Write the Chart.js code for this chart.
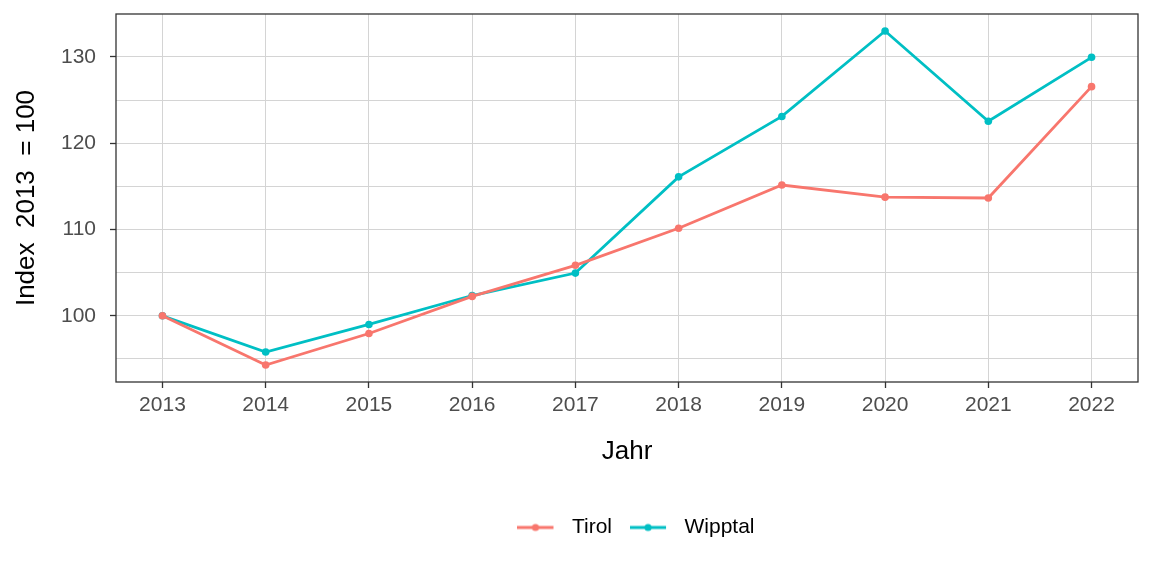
<!DOCTYPE html>
<html>
<head>
<meta charset="utf-8">
<script src="https://cdn.jsdelivr.net/npm/chart.js@4"></script>
<style>
  html, body { margin: 0; padding: 0; background: #ffffff; }
  #wrap { width: 1152px; height: 576px; }
</style>
</head>
<body>
<div id="wrap"><canvas id="chart" width="1152" height="576"></canvas></div>
<script>
// data
const years = [2013, 2014, 2015, 2016, 2017, 2018, 2019, 2020, 2021, 2022];
const tirol = [100, 94.3, 97.95, 102.25, 105.85, 110.15, 115.15, 113.75, 113.65, 126.55];
const wipptal = [100, 95.8, 99.0, 102.35, 104.95, 116.1, 123.1, 133.0, 122.55, 129.95];
const yTicks = [95, 100, 105, 110, 115, 120, 125, 130];
const seriesNames = ['Tirol', 'Wipptal'];
const seriesColors = ['#F8766D', '#00BFC4'];

const FONT = '"Liberation Sans", Arial, sans-serif';

// legend key: line with a dot in the middle
function makeKey(color) {
    const c = document.createElement('canvas');
    c.width = 44;
    c.height = 12;
    const g = c.getContext('2d');
    g.strokeStyle = color;
    g.lineWidth = 2.8;
    g.beginPath();
    g.moveTo(0, 6);
    g.lineTo(36, 6);
    g.stroke();
    g.fillStyle = color;
    g.beginPath();
    g.arc(18, 6, 3.6, 0, Math.PI * 2);
    g.fill();
    return c;
}

// grey box round the panel, like ggplot's panel.border
const panelBorder = {
    id: 'panelBorder',
    beforeDraw(chart) {
        // nudge the legend a bit right, ggplot centres it slightly off
        if (chart.legend) {
            chart.legend.left += 9;
            chart.legend.right += 9;
        }
    },
    afterDatasetsDraw(chart) {
        const a = chart.chartArea;
        const ctx = chart.ctx;
        ctx.save();
        ctx.strokeStyle = '#333333';
        ctx.lineWidth = 1.3;
        ctx.strokeRect(a.left, a.top, a.right - a.left, a.bottom - a.top);
        ctx.restore();
    }
};

const datasets = seriesNames.map((name, i) => ({
    label: name,
    data: years.map((y, j) => ({ x: y, y: (i === 0 ? tirol : wipptal)[j] })),
    borderColor: seriesColors[i],
    backgroundColor: seriesColors[i],
    borderWidth: 2.8,
    pointRadius: 3.8,
    pointHoverRadius: 3.8,
    pointBorderWidth: 0,
    pointStyle: 'circle',
    tension: 0,
    fill: false
}));

new Chart(document.getElementById('chart').getContext('2d'), {
    type: 'line',
    data: { datasets },
    options: {
        responsive: false,
        animation: false,
        layout: { padding: { top: 14, right: 14, left: 0, bottom: 28 } },
        plugins: {
            tooltip: { enabled: false },
            legend: {
                position: 'bottom',
                fullSize: false,
                labels: {
                    usePointStyle: true,
                    pointStyleWidth: 44,
                    padding: 18,
                    color: '#000000',
                    font: { family: FONT, size: 21 },
                    generateLabels(chart) {
                        return chart.data.datasets.map((ds, i) => ({
                            text: ds.label,
                            pointStyle: makeKey(ds.borderColor),
                            fillStyle: ds.borderColor,
                            strokeStyle: ds.borderColor,
                            lineWidth: 0,
                            fontColor: '#000000',
                            hidden: false,
                            datasetIndex: i
                        }));
                    }
                }
            }
        },
        scales: {
            x: {
                type: 'linear',
                min: 2012.55,
                max: 2022.45,
                afterBuildTicks(scale) {
                    scale.ticks = years.map(v => ({ value: v }));
                },
                afterFit(scale) {
                    scale.height = 117;
                    scale.paddingLeft = 0;
                    scale.paddingRight = 0;
                },
                grid: {
                    color: '#d4d4d4',
                    lineWidth: 1,
                    tickLength: 6,
                    tickColor: '#333333',
                    tickWidth: 1.3
                },
                border: { display: false },
                ticks: {
                    padding: 5,
                    color: '#4d4d4d',
                    font: { family: FONT, size: 21 },
                    maxRotation: 0,
                    autoSkip: false,
                    callback: v => String(v)
                },
                title: {
                    display: true,
                    text: 'Jahr',
                    color: '#000000',
                    font: { family: FONT, size: 26 },
                    padding: { top: 0, bottom: 32 }
                }
            },
            y: {
                type: 'linear',
                min: 92.33,
                max: 134.97,
                afterBuildTicks(scale) {
                    scale.ticks = yTicks.map(v => ({ value: v }));
                },
                afterFit(scale) {
                    scale.width = 116;
                    scale.paddingTop = 0;
                    scale.paddingBottom = 0;
                },
                grid: {
                    color: '#d4d4d4',
                    lineWidth: 1,
                    tickLength: 6,
                    tickColor: ctx => (ctx.tick && ctx.tick.value % 10 === 0) ? '#333333' : 'rgba(0,0,0,0)',
                    tickWidth: 1.3
                },
                border: { display: false },
                ticks: {
                    padding: 14,
                    color: '#4d4d4d',
                    font: { family: FONT, size: 21 },
                    autoSkip: false,
                    callback: v => (v % 10 === 0 ? String(v) : '')
                },
                title: {
                    display: true,
                    text: 'Index  2013  = 100',
                    color: '#000000',
                    font: { family: FONT, size: 26 },
                    padding: { top: 11, bottom: 0 }
                }
            }
        }
    },
    plugins: [panelBorder]
});
</script>
</body>
</html>
